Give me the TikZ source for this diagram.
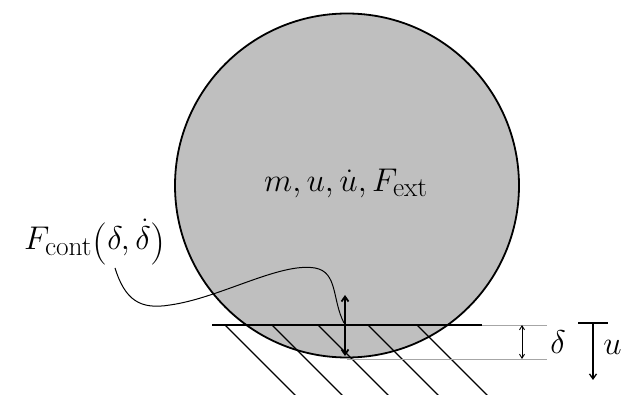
\documentclass[tikz,border=0pt]{standalone}
\usetikzlibrary{arrows.meta}
\definecolor{ballgray}{HTML}{BFBFBF}
\newcommand{\bigpar}[1]{\raisebox{-3.5pt}{\fontsize{32}{32}\selectfont #1}}
\begin{document}
\begin{tikzpicture}[x=1pt,y=-1pt,
  ball/.style={draw=black,fill=ballgray,line width=1.8pt},
  groundline/.style={line width=2.4pt},
  hatchline/.style={line width=1.2pt},
  guide/.style={draw=black!35,line width=0.9pt},
  darrow/.style={{Straight Barb[length=5pt,width=7pt]}-{Straight Barb[length=5pt,width=7pt]},line width=1.8pt},
  sarrow/.style={{Straight Barb[length=4pt,width=5pt]}-{Straight Barb[length=4pt,width=5pt]},line width=0.9pt},
  lbl/.style={inner sep=0pt,font=\Huge,scale=1.32}]
\useasboundingbox (0,0) rectangle (630,395);
% ball
\node[ball,circle,minimum size=344pt,inner sep=0pt] (ball) at (347,185.5) {};
\node[lbl] (mass) at (346,183) {$m, u, \dot u, F_{\mathrm{ext}}$};
% ground
\coordinate (gl) at (212,325);
\coordinate (gr) at (482,325);
\draw[groundline] (gl) -- (gr);
\begin{scope}
\clip (0,325) rectangle (630,395);
\foreach \x in {225,272,318,368,417}{
  \draw[hatchline] (\x,325) -- ++(80,80);
}
\end{scope}
% guides
\coordinate (gt) at (547,325);
\coordinate (bb) at (347,359);
\coordinate (gb) at (547,359);
\draw[guide] (gr) -- (gt);
\draw[guide] (bb) -- (gb);
% delta arrow
\coordinate (dt) at (522,325);
\coordinate (db) at (522,359);
\draw[sarrow] (dt) -- (db);
\node[lbl,anchor=west] (dl) at (550,342) {$\delta$};
% u arrow
\coordinate (ul) at (578,323);
\coordinate (ur) at (608,323);
\coordinate (ut) at (593,323);
\coordinate (ubot) at (593,380);
\draw[line width=1.8pt] (ul) -- (ur);
\draw[line width=1.3pt,-{Straight Barb[length=5pt,width=7pt]}] (ut) -- (ubot);
\node[lbl,anchor=west] (ulbl) at (603,347) {$u$};
% contact arrow
\coordinate (ct) at (345,295);
\coordinate (cb) at (345,356);
\draw[darrow] (ct) -- (cb);
% contact label
\node[lbl] (fc) at (95,242) {$F_{\mathrm{cont}}$\bigpar{(}$\delta, \dot\delta$\bigpar{)}};
\coordinate (cs) at (115,268);
\coordinate (ce) at (344,323);
\draw[line width=1pt] (cs) .. controls (125,300) and (140,310) .. (170,305)
  .. controls (220,298) and (280,262) .. (315,268)
  .. controls (338,272) and (332,300) .. (ce);
\end{tikzpicture}
\end{document}
